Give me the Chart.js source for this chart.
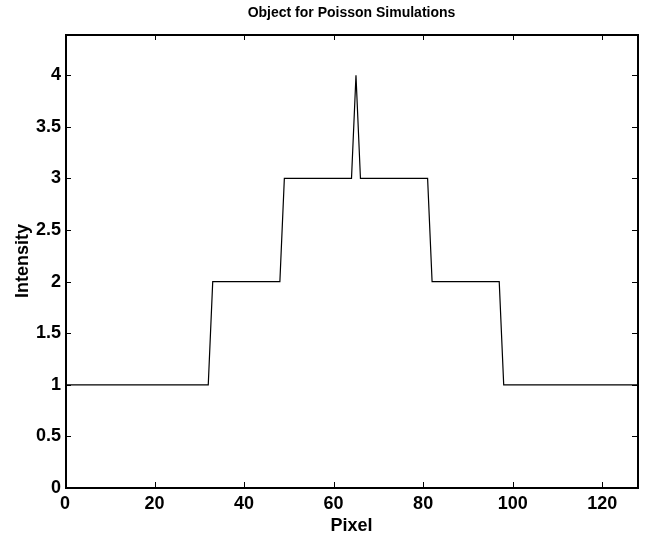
<!DOCTYPE html>
<html>
<head>
<meta charset="utf-8">
<script src="https://cdn.jsdelivr.net/npm/chart.js@4/dist/chart.umd.min.js"></script>
<style>
    html, body { margin: 0; padding: 0; background: #fff; }
    #wrap { width: 649px; height: 535px; }
</style>
</head>
<body>
<div id="wrap"><canvas id="poissonObjectChart"></canvas></div>
<script>
const pixels = [
    0, 1, 2, 3, 4, 5, 6, 7, 8, 9,
    10, 11, 12, 13, 14, 15, 16, 17, 18, 19,
    20, 21, 22, 23, 24, 25, 26, 27, 28, 29,
    30, 31, 32, 33, 34, 35, 36, 37, 38, 39,
    40, 41, 42, 43, 44, 45, 46, 47, 48, 49,
    50, 51, 52, 53, 54, 55, 56, 57, 58, 59,
    60, 61, 62, 63, 64, 65, 66, 67, 68, 69,
    70, 71, 72, 73, 74, 75, 76, 77, 78, 79,
    80, 81, 82, 83, 84, 85, 86, 87, 88, 89,
    90, 91, 92, 93, 94, 95, 96, 97, 98, 99,
    100, 101, 102, 103, 104, 105, 106, 107, 108, 109,
    110, 111, 112, 113, 114, 115, 116, 117, 118, 119,
    120, 121, 122, 123, 124, 125, 126, 127, 128,
];

const intensity = [
    1, 1, 1, 1, 1, 1, 1, 1, 1, 1,
    1, 1, 1, 1, 1, 1, 1, 1, 1, 1,
    1, 1, 1, 1, 1, 1, 1, 1, 1, 1,
    1, 1, 1, 2, 2, 2, 2, 2, 2, 2,
    2, 2, 2, 2, 2, 2, 2, 2, 2, 3,
    3, 3, 3, 3, 3, 3, 3, 3, 3, 3,
    3, 3, 3, 3, 3, 4, 3, 3, 3, 3,
    3, 3, 3, 3, 3, 3, 3, 3, 3, 3,
    3, 3, 2, 2, 2, 2, 2, 2, 2, 2,
    2, 2, 2, 2, 2, 2, 2, 2, 1, 1,
    1, 1, 1, 1, 1, 1, 1, 1, 1, 1,
    1, 1, 1, 1, 1, 1, 1, 1, 1, 1,
    1, 1, 1, 1, 1, 1, 1, 1, 1,
];

const xTicks = [0, 20, 40, 60, 80, 100, 120];
const yTicks = [0, 0.5, 1, 1.5, 2, 2.5, 3, 3.5, 4];

const FONT = '"Liberation Sans", Arial, Helvetica, sans-serif';

// MATLAB style box with ticks pointing inwards on all four sides
const boxTicksPlugin = {
    id: 'boxTicks',
    afterDraw(chart) {
        const { ctx, chartArea: a, scales } = chart;
        const len = 6;
        ctx.save();
        ctx.strokeStyle = '#000';
        ctx.lineWidth = 1;
        ctx.beginPath();
        xTicks.forEach((v) => {
            const px = Math.round(scales.x.getPixelForValue(v)) + 0.5;
            ctx.moveTo(px, a.bottom);
            ctx.lineTo(px, a.bottom - len);
            ctx.moveTo(px, a.top);
            ctx.lineTo(px, a.top + len);
        });
        yTicks.forEach((v) => {
            const py = Math.round(scales.y.getPixelForValue(v)) + 0.5;
            ctx.moveTo(a.left, py);
            ctx.lineTo(a.left + len, py);
            ctx.moveTo(a.right, py);
            ctx.lineTo(a.right - len, py);
        });
        ctx.stroke();
        ctx.lineWidth = 2;
        ctx.strokeRect(a.left + 1, a.top + 1, a.right - a.left - 1, a.bottom - a.top - 1);
        ctx.restore();
    },
};

const ctx = document.getElementById('poissonObjectChart').getContext('2d');

new Chart(ctx, {
    type: 'line',
    data: {
        datasets: [
            {
                label: 'Object',
                data: pixels.map((p, i) => ({ x: p, y: intensity[i] })),
                borderColor: '#000',
                borderWidth: 1.2,
                pointRadius: 0,
                tension: 0,
                fill: false,
            },
        ],
    },
    options: {
        responsive: true,
        maintainAspectRatio: false,
        animation: false,
        layout: {
            padding: { left: 0, right: 11, top: 0, bottom: 0 },
        },
        plugins: {
            legend: { display: false },
            tooltip: { enabled: false },
            title: {
                display: true,
                fullSize: false,
                text: 'Object for Poisson Simulations',
                color: '#000',
                font: { family: FONT, size: 14, weight: 'bold', lineHeight: 1.2 },
                padding: { top: 5, bottom: 12.2 },
            },
        },
        scales: {
            x: {
                type: 'linear',
                min: 0,
                max: 128,
                grid: { display: false, drawTicks: false, tickLength: 0 },
                border: { display: false },
                afterFit(scale) {
                    scale.height = 47;
                },
                afterBuildTicks(scale) {
                    scale.ticks = xTicks.map((v) => ({ value: v }));
                },
                ticks: {
                    color: '#000',
                    padding: 5,
                    maxRotation: 0,
                    font: { family: FONT, size: 18, weight: 'bold' },
                },
                title: {
                    display: true,
                    text: 'Pixel',
                    color: '#000',
                    font: { family: FONT, size: 18, weight: 'bold', lineHeight: 1.2 },
                    padding: { top: 0, bottom: -2 },
                },
            },
            y: {
                min: 0,
                max: 4.4,
                grid: { display: false, drawTicks: false, tickLength: 0 },
                border: { display: false },
                afterFit(scale) {
                    scale.width = 65;
                },
                afterBuildTicks(scale) {
                    scale.ticks = yTicks.map((v) => ({ value: v }));
                },
                ticks: {
                    color: '#000',
                    padding: 4,
                    font: { family: FONT, size: 18, weight: 'bold' },
                    callback: (v) => String(v),
                },
                title: {
                    display: true,
                    text: 'Intensity',
                    color: '#000',
                    font: { family: FONT, size: 18, weight: 'bold', lineHeight: 1.2 },
                    padding: { top: 12, bottom: 0 },
                },
            },
        },
    },
    plugins: [boxTicksPlugin],
});
</script>
</body>
</html>
